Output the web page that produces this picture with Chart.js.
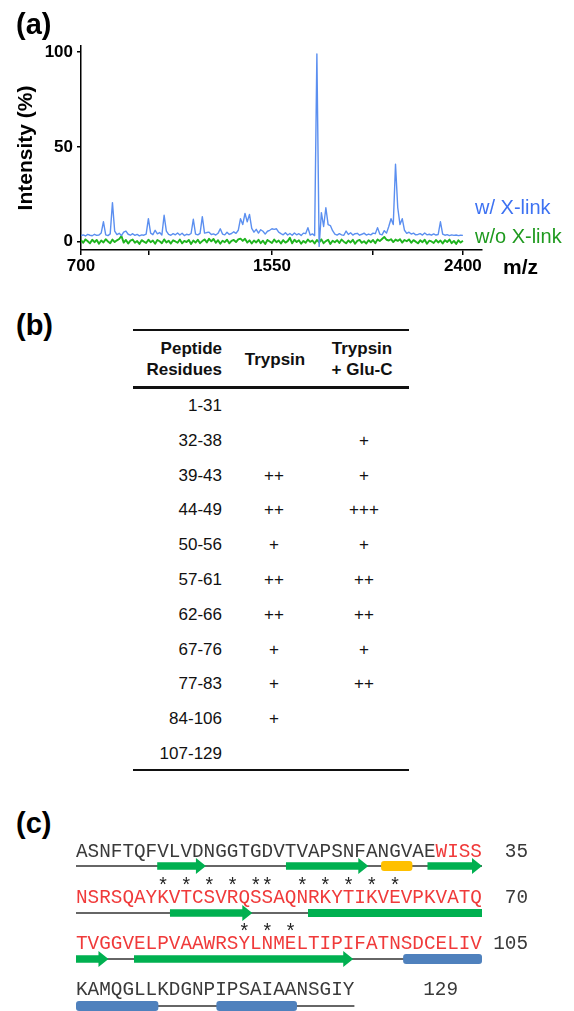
<!DOCTYPE html>
<html>
<head>
<meta charset="utf-8">
<script src="https://cdn.jsdelivr.net/npm/chart.js@4.4.1/dist/chart.umd.min.js"></script>
<style>
  body { margin: 0; background: #fff; font-family: "Liberation Sans", Arial, sans-serif; }
  #page { position: relative; width: 574px; height: 1011px; overflow: hidden; }
  #spectrum { position: absolute; left: 0; top: 0; }
  .panel { position: absolute; left: 16px; font-size: 29px; line-height: 29px; font-weight: bold; color: #000; }
  .legend { position: absolute; left: 475px; font-size: 20px; line-height: 20px; white-space: nowrap; }
  .mz { position: absolute; left: 503px; top: 256px; font-size: 21px; line-height: 21px; font-weight: bold; }
  .cell { position: absolute; font-size: 17px; line-height: 20px; color: #111; white-space: nowrap; }
  .head { position: absolute; font-size: 17px; line-height: 21px; font-weight: bold; color: #111; white-space: nowrap; }
  .rule { position: absolute; left: 133px; width: 276px; background: #111; }
  #seq { position: absolute; left: 0; top: 0; }
</style>
</head>
<body>
<div id="page">
  <canvas id="spectrum" width="574" height="290"></canvas>
  <div class="panel" style="top:10px">(a)</div>
  <div class="legend" style="top:197px;color:#3d72f2">w/ X-link</div>
  <div class="legend" style="top:226px;color:#1f9a1f">w/o X-link</div>
  <div class="mz">m/z</div>

  <div class="panel" style="top:311px">(b)</div>
  <div id="table"></div>

  <div class="panel" style="top:809px">(c)</div>
  <svg id="seq" width="574" height="1011"></svg>
</div>

<script>
// ---------- (a) spectrum ----------
const mz = [
  700, 710, 720, 730, 740, 750, 760, 770, 780, 790,
  800, 810, 820, 830, 840, 850, 860, 870, 880, 890,
  900, 910, 920, 930, 940, 950, 960, 970, 980, 990,
  1000, 1010, 1020, 1030, 1040, 1050, 1060, 1070, 1080, 1090,
  1100, 1110, 1120, 1130, 1140, 1150, 1160, 1170, 1180, 1190,
  1200, 1210, 1220, 1230, 1240, 1250, 1260, 1270, 1280, 1290,
  1300, 1310, 1320, 1330, 1340, 1350, 1360, 1370, 1380, 1390,
  1400, 1410, 1420, 1430, 1440, 1450, 1460, 1470, 1480, 1490,
  1500, 1510, 1520, 1530, 1540, 1550, 1560, 1570, 1580, 1590,
  1600, 1610, 1620, 1630, 1640, 1650, 1660, 1670, 1680, 1690,
  1700, 1710, 1720, 1730, 1740, 1750, 1760, 1770, 1780, 1790,
  1800, 1810, 1820, 1830, 1840, 1850, 1860, 1870, 1880, 1890,
  1900, 1910, 1920, 1930, 1940, 1950, 1960, 1970, 1980, 1990,
  2000, 2010, 2020, 2030, 2040, 2050, 2060, 2070, 2080, 2090,
  2100, 2110, 2120, 2130, 2140, 2150, 2160, 2170, 2180, 2190,
  2200, 2210, 2220, 2230, 2240, 2250, 2260, 2270, 2280, 2290,
  2300, 2310, 2320, 2330, 2340, 2350, 2360, 2370, 2380, 2390,
  2400
];

const withXlink = [
  3.2, 3.6, 3.0, 3.8, 3.4, 3.1, 3.9, 3.3, 3.5, 4.6,
  10.5, 3.6, 3.2, 4.1, 20.6, 5.5, 3.7, 4.4, 3.2, 5.0,
  5.6, 3.9, 3.4, 4.2, 3.3, 3.8, 3.1, 3.6, 3.4, 4.0,
  12.1, 4.5, 3.7, 6.0, 4.1, 4.8, 3.5, 13.9, 5.6, 3.8,
  3.4, 4.2, 3.6, 4.6, 3.5, 4.4, 3.2, 3.9, 3.6, 4.3,
  11.8, 4.0, 3.6, 4.4, 13.2, 4.5, 4.8, 5.0, 3.8, 4.1,
  3.5, 4.4, 6.8, 4.0, 3.6, 5.0, 3.8, 4.3, 5.2, 4.4,
  6.0, 12.1, 9.0, 14.9, 10.5, 14.4, 7.0, 5.0, 6.5, 4.5,
  6.3, 5.5, 4.0, 5.5, 6.0, 6.8, 6.5, 6.8, 5.0, 4.2,
  3.6, 4.7, 3.5, 4.3, 3.4, 4.6, 3.6, 4.2, 3.3, 4.5,
  4.2, 7.4, 3.5, 4.1, 3.2, 99.0, -2.5, 15.3, 8.0, 17.9,
  9.0, 8.5, 5.8, 4.0, 3.5, 4.2, 3.6, 3.4, 5.6, 3.8,
  4.7, 3.5, 4.2, 4.4, 3.4, 3.9, 4.5, 3.5, 4.0, 3.6,
  4.5, 4.2, 7.4, 4.0, 3.6, 5.8, 4.5, 8.0, 12.1, 9.0,
  40.8, 17.9, 9.0, 12.1, 6.0, 4.4, 5.0, 4.0, 4.5, 3.6,
  3.8, 4.2, 3.5, 4.6, 3.6, 3.9, 3.4, 4.1, 3.5, 3.8,
  10.5, 4.0, 3.4, 3.7, 3.2, 3.6, 3.3, 3.5, 3.2, 3.4,
  3.3
];

const withoutXlink = [
  0.8, -0.6, 1.2, 0.2, -0.9, 1.0, -0.3, 0.9, -1.1, 0.6,
  -0.4, 1.3, 0.1, -0.8, 1.1, -0.2, 0.7, 1.4, 3.0, -0.5,
  0.9, -1.0, 0.5, 1.1, -0.6, 0.3, -1.2, 0.8, 0.0, -0.7,
  1.0, -0.3, 0.6, -1.1, 0.9, 0.2, -0.8, 1.2, -0.4, 0.5,
  -1.0, 0.7, 0.1, -0.6, 1.1, -0.9, 0.4, -0.2, 0.9, -1.2,
  0.6, -0.5, 1.0, -0.8, 0.3, 1.2, -0.4, 1.5, 0.2, 1.4,
  -0.6, 0.8, -1.1, 0.5, -0.3, 1.0, -0.9, 0.4, 0.9, -0.2,
  1.2, 1.6, 0.4, 1.5, -0.5, 0.7, -1.0, 0.6, -0.4, 1.0,
  -0.8, 0.5, -1.2, 0.9, 0.1, -0.7, 1.1, -0.3, 0.6, -1.0,
  0.8, -0.5, 0.3, 2.0, -0.9, 1.0, -0.2, 0.7, -1.1, 0.4,
  -0.6, 1.1, -0.1, 0.6, -1.0, 0.9, -0.4, 1.2, -0.8, 0.3,
  1.0, -1.2, 0.5, -0.3, 0.8, -0.7, 1.1, 0.0, -0.9, 0.6,
  -0.4, 1.0, -1.1, 0.4, 0.9, -0.6, 0.2, -1.0, 0.7, -0.3,
  0.9, -0.8, 1.2, 0.3, 1.4, 2.5, 1.0, 0.6, 1.3, -0.2,
  1.1, 0.4, 1.3, -0.5, 0.9, 0.2, 1.2, -0.6, 0.8, 0.0,
  -0.9, 0.7, -0.3, 1.0, -1.1, 0.5, 0.1, -0.7, 0.9, -0.4,
  0.6, -1.0, 0.8, -0.2, 1.1, -0.8, 0.4, -1.2, 0.7, -0.5,
  0.5
];

const xTicks = [700, 1000, 1550, 2000, 2400];
const xTickLabels = ['700', '', '1550', '', '2400'];
const yTicks = [0, 50, 100];

Chart.defaults.font.family = '"Liberation Sans", Arial, sans-serif';

function toPoints(values) {
  return values.map((y, i) => ({ x: mz[i], y: y }));
}

const axisFont = { size: 17, weight: 'bold' };

new Chart(document.getElementById('spectrum'), {
  type: 'line',
  data: {
    datasets: [
      {
        label: 'w/ X-link',
        data: toPoints(withXlink),
        borderColor: '#5b8ff0',
        borderWidth: 1.4,
        borderJoinStyle: 'round',
        pointRadius: 0,
        tension: 0,
      },
      {
        label: 'w/o X-link',
        data: toPoints(withoutXlink),
        borderColor: '#1fb41f',
        borderWidth: 1.9,
        borderJoinStyle: 'round',
        pointRadius: 0,
        tension: 0,
      },
    ],
  },
  options: {
    responsive: false,
    animation: false,
    devicePixelRatio: 1,
    layout: { padding: { left: 0, right: 92, top: 46, bottom: 0 } },
    plugins: { legend: { display: false }, tooltip: { enabled: false } },
    scales: {
      x: {
        type: 'linear',
        min: 700,
        max: 2485,
        afterBuildTicks: (s) => { s.ticks = xTicks.map((v) => ({ value: v })); },
        afterFit: (s) => { s.height = 40; },
        ticks: {
          callback: (v, i) => xTickLabels[i],
          font: axisFont,
          color: '#000',
          padding: 1,
          maxRotation: 0,
          autoSkip: false,
        },
        grid: { drawOnChartArea: false, tickLength: 5, color: '#000', lineWidth: 1.5 },
        border: { color: '#000', width: 1.5 },
      },
      y: {
        min: -4.4,
        max: 103.2,
        afterBuildTicks: (s) => { s.ticks = yTicks.map((v) => ({ value: v })); },
        afterFit: (s) => { s.width = 81; },
        ticks: { font: axisFont, color: '#000', padding: 4 },
        grid: { drawOnChartArea: false, tickLength: 4, color: '#000', lineWidth: 1.5 },
        border: { color: '#000', width: 1.5 },
        title: {
          display: true,
          text: 'Intensity (%)',
          font: { size: 21, weight: 'bold' },
          color: '#000',
          padding: { top: 14, bottom: 0 },
        },
      },
    },
  },
});

// ---------- (b) table ----------
const peptideResidues = ['1-31', '32-38', '39-43', '44-49', '50-56', '57-61', '62-66', '67-76', '77-83', '84-106', '107-129'];
const trypsin = ['', '', '++', '++', '+', '++', '++', '+', '+', '+', ''];
const trypsinGluC = ['', '+', '+', '+++', '+', '++', '++', '+', '++', '', ''];

const table = document.getElementById('table');
function addDiv(cls, style, html) {
  const d = document.createElement('div');
  d.className = cls;
  d.style.cssText = style;
  d.innerHTML = html;
  table.appendChild(d);
}
addDiv('rule', 'top:329px;height:2px', '');
addDiv('rule', 'top:386px;height:3px', '');
addDiv('rule', 'top:769px;height:2px', '');
addDiv('head', 'left:0;width:222px;text-align:right;top:338px', 'Peptide<br>Residues');
addDiv('head', 'left:225px;width:100px;text-align:center;top:349px', 'Trypsin');
addDiv('head', 'left:312px;width:100px;text-align:center;top:338px', 'Trypsin<br>+ Glu-C');
peptideResidues.forEach((p, i) => {
  const top = 396 + 34.8 * i;
  addDiv('cell', `left:0;width:222px;text-align:right;top:${top}px`, p);
  addDiv('cell', `left:224px;width:100px;text-align:center;top:${top}px`, trypsin[i]);
  addDiv('cell', `left:314px;width:100px;text-align:center;top:${top}px`, trypsinGluC[i]);
});

// ---------- (c) sequence with secondary structure ----------
const sequence = 'ASNFTQFVLVDNGGTGDVTVAPSNFANGVAEWISS' +
  'NSRSQAYKVTCSVRQSSAQNRKYTIKVEVPKVATQ' +
  'TVGGVELPVAAWRSYLNMELTIPIFATNSDCELIV' +
  'KAMQGLLKDGNPIPSAIAANSGIY';
const redRange = [32, 105];            // residues shown in red
const starred = [43, 45, 47, 49, 51, 52, 55, 57, 59, 61, 63, 85, 87, 89];
// secondary structure, in residue (character) coordinates along the sequence
const strands = [[7.0, 11.2], [18.1, 25.2], [30.3, 35.0], [43.1, 50.2], [55.0, 72.8], [75.0, 93.9]];
const helices310 = [[26.3, 29.0]];
const helices = [[98.2, 112.1], [117.1, 124.05]];

const SVGNS = 'http://www.w3.org/2000/svg';
const svg = document.getElementById('seq');
function el(name, attrs, text) {
  const e = document.createElementNS(SVGNS, name);
  for (const k in attrs) e.setAttribute(k, attrs[k]);
  if (text !== undefined) e.textContent = text;
  return e;
}

const perRow = 35;
const charW = 11.6;
const seqX = 76;
const rowBase = [856.5, 902.7, 948.7, 995.3];
const rowLine = [866, 913, 959, 1006];
const numRight = [528, 528, 528, 458];
const monoFont = '"Liberation Mono", "Courier New", monospace';
const darkText = '#3a3a3a';
const redText = '#f03a3a';
const nRows = Math.ceil(sequence.length / perRow);

for (let r = 0; r < nRows; r++) {
  const chunk = sequence.slice(r * perRow, (r + 1) * perRow);
  const t = el('text', { x: seqX, y: rowBase[r], 'font-family': monoFont, 'font-size': 19.33 });
  let i = 0;
  while (i < chunk.length) {
    const res = r * perRow + i + 1;
    const red = res >= redRange[0] && res <= redRange[1];
    let j = i;
    while (j < chunk.length) {
      const rj = r * perRow + j + 1;
      if ((rj >= redRange[0] && rj <= redRange[1]) !== red) break;
      j++;
    }
    t.appendChild(el('tspan', { fill: red ? redText : darkText }, chunk.slice(i, j)));
    i = j;
  }
  svg.appendChild(t);
  const lastRes = r * perRow + chunk.length;
  svg.appendChild(el('text', {
    x: numRight[r], y: rowBase[r], 'text-anchor': 'end',
    'font-family': monoFont, 'font-size': 19.33, fill: darkText,
  }, String(lastRes)));
  // backbone line
  svg.appendChild(el('line', {
    x1: seqX, x2: seqX + chunk.length * charW, y1: rowLine[r], y2: rowLine[r],
    stroke: '#333', 'stroke-width': 1.5,
  }));
}

starred.forEach((res) => {
  const r = Math.floor((res - 1) / perRow);
  const c = (res - 1) % perRow;
  svg.appendChild(el('text', {
    x: seqX + (c + 0.5) * charW, y: rowBase[r] - 11, 'text-anchor': 'middle',
    'font-family': monoFont, 'font-size': 19.33, fill: '#222',
  }, '*'));
});

function eachRowPart(range, fn) {
  for (let r = 0; r < nRows; r++) {
    const a = Math.max(range[0], r * perRow);
    const b = Math.min(range[1], (r + 1) * perRow);
    if (b > a) fn(r, a - r * perRow, b - r * perRow, b === range[1]);
  }
}

strands.forEach((range) => {
  eachRowPart(range, (r, a, b, isEnd) => {
    const y = rowLine[r];
    const x1 = seqX + a * charW;
    const x2 = seqX + b * charW;
    if (isEnd) {
      const hb = x2 - 10;
      svg.appendChild(el('polygon', {
        points: `${x1},${y - 3.8} ${hb},${y - 3.8} ${hb},${y - 8} ${x2},${y} ${hb},${y + 8} ${hb},${y + 3.8} ${x1},${y + 3.8}`,
        fill: '#00b050',
      }));
    } else {
      svg.appendChild(el('rect', { x: x1, y: y - 4, width: x2 - x1, height: 8, fill: '#00b050' }));
    }
  });
});

function drawHelix(range, color) {
  eachRowPart(range, (r, a, b) => {
    const x1 = seqX + a * charW;
    const x2 = seqX + b * charW;
    svg.appendChild(el('rect', {
      x: x1, y: rowLine[r] - 5, width: x2 - x1, height: 10, rx: 3, ry: 3, fill: color,
    }));
  });
}
helices310.forEach((h) => drawHelix(h, '#ffc000'));
helices.forEach((h) => drawHelix(h, '#4f81bd'));
</script>
</body>
</html>
